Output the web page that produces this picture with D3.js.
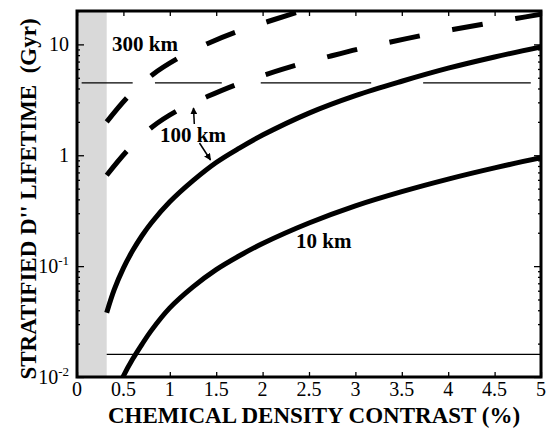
<!DOCTYPE html>
<html>
<head>
<meta charset="utf-8">
<script src="https://cdn.jsdelivr.net/npm/d3@7"></script>
<style>
  html, body { margin: 0; padding: 0; background: #fff; }
  svg { display: block; }
</style>
</head>
<body>
<svg id="chart" width="550" height="431" font-family="'Liberation Serif', 'DejaVu Serif', serif"></svg>
<script>
// Chemical density contrast (%) vs. stratified D'' lifetime (Gyr)
const xTicks = [0, 0.5, 1, 1.5, 2, 2.5, 3, 3.5, 4, 4.5, 5];
const xTickLabels = ["0", "0.5", "1", "1.5", "2", "2.5", "3", "3.5", "4", "4.5", "5"];
const yDecades = [0.01, 0.1, 1, 10];
const yDecadeLabels = [["10", "-2"], ["10", "-1"], ["1", ""], ["10", ""]];

// shaded region of low density contrast
const shadeRange = [0, 0.32];

// solid curves
const solid100X = [0.32, 0.4, 0.5, 0.6, 0.7, 0.8, 1.0, 1.25, 1.5, 1.75, 2.0, 2.5, 3.0, 3.5, 4.0, 4.5, 5.0];
const solid100Y = [0.038, 0.061, 0.096, 0.138, 0.188, 0.245, 0.38, 0.59, 0.86, 1.16, 1.52, 2.4, 3.45, 4.65, 6.1, 7.7, 9.5];
const solid10X = [0.46, 0.5, 0.6, 0.7, 0.8, 1.0, 1.25, 1.5, 1.75, 2.0, 2.5, 3.0, 3.5, 4.0, 4.5, 5.0];
const solid10Y = [0.0086, 0.0102, 0.0145, 0.0197, 0.0262, 0.042, 0.065, 0.093, 0.124, 0.16, 0.245, 0.35, 0.47, 0.61, 0.77, 0.95];

// dashed curves
const dash100X = [0.32, 0.55, 0.81, 1.09, 1.41, 1.72, 2.05, 2.36, 2.72, 3.04, 3.38, 3.71, 4.05, 4.39, 4.73, 5.0];
const dash100Y = [0.66, 1.12, 1.8, 2.55, 3.4, 4.35, 5.4, 6.5, 7.8, 9.1, 10.5, 12.0, 13.6, 15.3, 17.1, 18.7];
const dash300X = [0.32, 0.55, 0.81, 1.09, 1.41, 1.72, 2.05, 2.36, 2.6];
const dash300Y = [2.0, 3.38, 5.3, 7.5, 10.2, 13.0, 16.0, 19.3, 22.5];

// reference lines: age of the Earth (broken around the curves) and a lower bound
const earthAge = 4.5;
const earthAgeSegments = [[0.05, 0.6], [0.84, 1.56], [1.98, 3.17], [3.73, 4.89]];
const lowerLine = 0.016;
const lowerLineRange = [0.32, 5];

const svg = d3.select("#chart");
const L = 77, R = 541, T = 11, B = 377;
const x = d3.scaleLinear().domain([0, 5]).range([L, R]);
const y = d3.scaleLog().domain([0.01, 20]).range([B, T]);

const defs = svg.append("defs");
defs.append("clipPath").attr("id", "plotClip")
  .append("rect").attr("x", L).attr("y", T).attr("width", R - L).attr("height", B - T);

// shaded band
svg.append("rect")
  .attr("x", x(shadeRange[0])).attr("y", T)
  .attr("width", x(shadeRange[1]) - x(shadeRange[0])).attr("height", B - T)
  .attr("fill", "#d9d9d9");

const plot = svg.append("g").attr("clip-path", "url(#plotClip)");

// reference lines
earthAgeSegments.forEach(s => {
  plot.append("line")
    .attr("x1", x(s[0])).attr("x2", x(s[1]))
    .attr("y1", y(earthAge)).attr("y2", y(earthAge))
    .attr("stroke", "#000").attr("stroke-width", 1.3);
});
plot.append("line")
  .attr("x1", x(lowerLineRange[0])).attr("x2", x(lowerLineRange[1]))
  .attr("y1", y(lowerLine)).attr("y2", y(lowerLine))
  .attr("stroke", "#000").attr("stroke-width", 1.3);

const line = d3.line().x(d => x(d[0])).y(d => y(d[1])).curve(d3.curveCatmullRom.alpha(0.5));
const zip = (a, b) => a.map((v, i) => [v, b[i]]);

[[solid100X, solid100Y, null], [solid10X, solid10Y, null],
 [dash100X, dash100Y, "31,33"], [dash300X, dash300Y, "31,33"]].forEach(([xs, ys, dash]) => {
  plot.append("path")
    .attr("d", line(zip(xs, ys)))
    .attr("fill", "none")
    .attr("stroke", "#000")
    .attr("stroke-width", 5)
    .attr("stroke-dasharray", dash)
    .attr("stroke-linecap", "butt");
});

// ticks: bottom and top
const bottomAxis = d3.axisBottom(x).tickValues(xTicks).tickSize(-5).tickFormat("");
svg.append("g").attr("transform", `translate(0,${B})`).call(bottomAxis)
  .call(g => g.select(".domain").remove())
  .selectAll("line").attr("stroke-width", 1.3);
const topAxis = d3.axisTop(x).tickValues(xTicks).tickSize(-5).tickFormat("");
svg.append("g").attr("transform", `translate(0,${T})`).call(topAxis)
  .call(g => g.select(".domain").remove())
  .selectAll("line").attr("stroke-width", 1.3);

// ticks: left and right (decades + minor)
const minor = [];
[0.01, 0.1, 1, 10].forEach(d => { for (let k = 2; k <= 9; k++) if (d * k <= 20) minor.push(d * k); });
[[d3.axisLeft, L], [d3.axisRight, R]].forEach(([ax, pos]) => {
  svg.append("g").attr("transform", `translate(${pos},0)`)
    .call(ax(y).tickValues(yDecades).tickSize(-7).tickFormat(""))
    .call(g => g.select(".domain").remove())
    .selectAll("line").attr("stroke-width", 1.3);
  svg.append("g").attr("transform", `translate(${pos},0)`)
    .call(ax(y).tickValues(minor).tickSize(-3).tickFormat(""))
    .call(g => g.select(".domain").remove())
    .selectAll("line").attr("stroke-width", 1.3);
});

// frame
svg.append("rect").attr("x", L).attr("y", T).attr("width", R - L).attr("height", B - T)
  .attr("fill", "none").attr("stroke", "#000").attr("stroke-width", 3);

const serif = "'Liberation Serif', 'DejaVu Serif', serif";

// x tick labels
svg.append("g").attr("font-family", serif).selectAll("text").data(xTicks).join("text")
  .attr("x", d => x(d)).attr("y", 396)
  .attr("text-anchor", "middle").attr("font-size", 20)
  .text((d, i) => xTickLabels[i]);

// y tick labels
yDecades.forEach((d, i) => {
  const [base, exp] = yDecadeLabels[i];
  const t = svg.append("text").attr("font-family", serif)
    .attr("x", 69).attr("y", y(d) + 7)
    .attr("text-anchor", "end").attr("font-size", 20);
  t.append("tspan").text(base);
  if (exp) t.append("tspan").attr("dy", -8).attr("font-size", 13).text(exp);
});

// axis titles
svg.append("text").attr("font-family", serif).attr("x", 314).attr("y", 423)
  .attr("text-anchor", "middle").attr("font-size", 23).attr("font-weight", "bold")
  .text("CHEMICAL DENSITY CONTRAST (%)");
svg.append("text").attr("font-family", serif)
  .attr("transform", "translate(36,199) rotate(-90)")
  .attr("text-anchor", "middle").attr("font-size", 23).attr("font-weight", "bold")
  .text("STRATIFIED D'' LIFETIME\u00A0\u00A0(Gyr)");

// curve annotations
const ann = svg.append("g").attr("font-family", serif).attr("font-size", 21).attr("font-weight", "bold");
ann.append("text").attr("x", 112).attr("y", 51).text("300 km");
ann.append("text").attr("x", 160).attr("y", 142).text("100 km");
ann.append("text").attr("x", 296).attr("y", 248).text("10 km");

// arrows from the 100 km label to its two curves
defs.append("marker").attr("id", "head").attr("viewBox", "0 0 10 10")
  .attr("refX", 9).attr("refY", 5).attr("markerWidth", 7).attr("markerHeight", 7)
  .attr("markerUnits", "userSpaceOnUse").attr("orient", "auto")
  .append("path").attr("d", "M0,0 L10,5 L0,10 Z").attr("fill", "#000");
[[194.3, 124, 193.5, 108], [199.5, 143, 210.5, 160]].forEach(a => {
  svg.append("line").attr("x1", a[0]).attr("y1", a[1]).attr("x2", a[2]).attr("y2", a[3])
    .attr("stroke", "#000").attr("stroke-width", 1.5).attr("marker-end", "url(#head)");
});
</script>
</body>
</html>
